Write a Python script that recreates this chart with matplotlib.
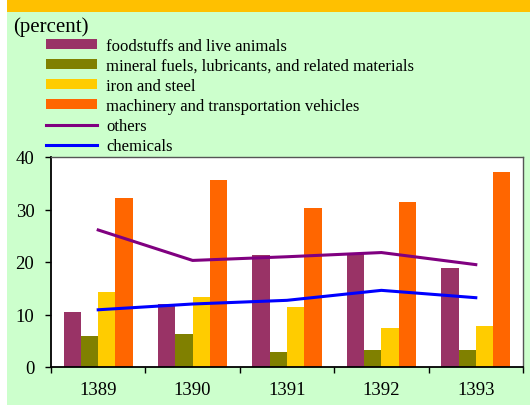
import numpy as np
import matplotlib.pyplot as plt
import matplotlib.patches as patches

plt.rcParams['font.family'] = ['Liberation Serif', 'DejaVu Serif']

# Dati (percent)
years = ['1389', '1390', '1391', '1392', '1393']
foodstuffs = [10.5, 12.0, 21.4, 21.5, 18.8]
mineral = [5.9, 6.2, 2.9, 3.2, 3.3]
iron_steel = [14.3, 13.4, 11.5, 7.4, 7.9]
machinery = [32.1, 35.7, 30.3, 31.5, 37.2]
others = [26.1, 20.3, 21.0, 21.8, 19.5]
chemicals = [10.9, 12.0, 12.7, 14.6, 13.2]

bar_series = [
    ('foodstuffs and live animals', foodstuffs, '#993366'),
    ('mineral fuels, lubricants, and related materials', mineral, '#808000'),
    ('iron and steel', iron_steel, '#FFCC00'),
    ('machinery and transportation vehicles', machinery, '#FF6600'),
]
line_series = [
    ('others', others, '#800080'),
    ('chemicals', chemicals, '#0000FF'),
]

W, H = 530, 406
fig = plt.figure(figsize=(W / 100, H / 100), dpi=100)
fig.patch.set_facecolor('white')

# sfondo verde e fascia arancione in alto
fig.patches.append(patches.Rectangle((7 / W, 0), 1 - 7 / W, 1, transform=fig.transFigure,
                                     facecolor='#CCFFCC', edgecolor='none', zorder=-2))
fig.patches.append(patches.Rectangle((7 / W, 1 - 13 / H), 1 - 7 / W, 13 / H, transform=fig.transFigure,
                                     facecolor='#FFC000', edgecolor='none', zorder=-1))

ax = fig.add_axes([51 / W, (H - 368) / H, (523 - 51) / W, (368 - 158) / H])
ax.set_facecolor('white')

x = np.arange(len(years))
bw = 0.183
handles = []
for i, (name, vals, col) in enumerate(bar_series):
    b = ax.bar(x + (i - 1.5) * bw, vals, bw, color=col, label=name, edgecolor='none')
    handles.append(b)
for name, vals, col in line_series:
    l, = ax.plot(x, vals, color=col, lw=2.2, label=name)
    handles.append(l)

ax.set_xlim(-0.5, len(years) - 0.5)
ax.set_ylim(0, 40)
ax.set_yticks([0, 10, 20, 30, 40])
ax.tick_params(axis='y', length=4, width=1, pad=8, labelsize=13.5, direction='out')
ax.set_xticks(np.arange(-0.5, len(years), 1.0))
ax.set_xticklabels([])
ax.set_xticks(x, minor=True)
ax.set_xticklabels(years, minor=True)
ax.tick_params(axis='x', which='major', length=4, width=1, direction='out')
ax.tick_params(axis='x', which='minor', length=0, pad=10, labelsize=13.5)

for s in ['left', 'bottom']:
    ax.spines[s].set_color('black')
    ax.spines[s].set_linewidth(1.3)
for s in ['top', 'right']:
    ax.spines[s].set_color('#555555')
    ax.spines[s].set_linewidth(1.0)

fig.text(13 / W, 1 - 27 / H, '(percent)', fontsize=15, va='center', ha='left')

fig.legend(handles=handles, labels=[h.get_label() for h in handles],
           loc='upper left', bbox_to_anchor=(46 / W, 1 - 39 / H),
           frameon=False, fontsize=12, borderpad=0, borderaxespad=0,
           handlelength=3.05, handleheight=0.54, handletextpad=0.58,
           labelspacing=0.245)

fig.savefig('out.png', dpi=100)
